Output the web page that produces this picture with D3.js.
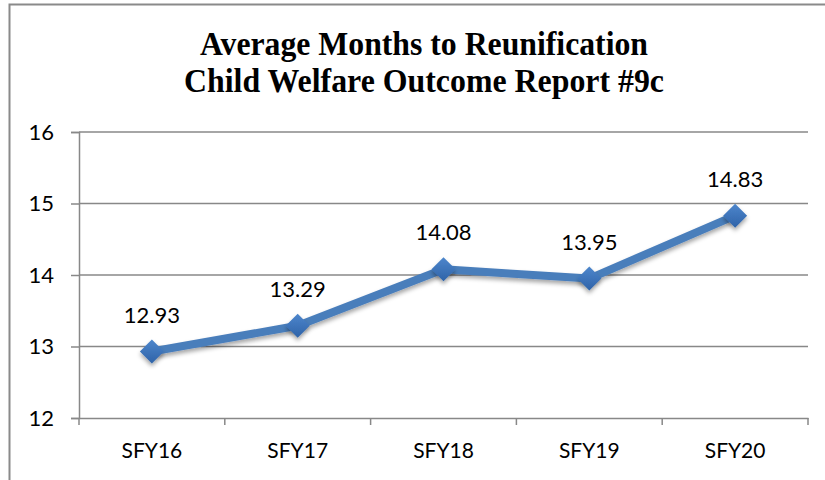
<!DOCTYPE html>
<html>
<head>
<meta charset="utf-8">
<script src="https://cdn.jsdelivr.net/npm/d3@7"></script>
<style>
  body { margin: 0; background: #fff; }
  svg { display: block; }
</style>
</head>
<body>
<svg width="825" height="480"></svg>
<script>
// chart data
const categories = ["SFY16", "SFY17", "SFY18", "SFY19", "SFY20"];
const values = [12.93, 13.29, 14.08, 13.95, 14.83];
const yTicks = [12, 13, 14, 15, 16];
const titleLines = ["Average Months to Reunification", "Child Welfare Outcome Report #9c"];

const svg = d3.select("svg");
const margin = {left: 79, right: 17, top: 132, bottom: 62};
const W = 825, H = 480;
const FONT = "Lato, Carlito, sans-serif";

// outer frame (left + top edges visible)
svg.append("path")
  .attr("d", "M9.5,480 L9.5,4.5 L825,4.5")
  .attr("fill", "none").attr("stroke", "#8a8a8a").attr("stroke-width", 2);

// title
svg.append("g").selectAll("text")
  .data(titleLines)
  .enter().append("text")
  .attr("x", 424)
  .attr("y", (d, i) => 55 + i * 37)
  .attr("text-anchor", "middle")
  .attr("font-family", "Liberation Serif, Times New Roman, serif")
  .attr("font-weight", "bold")
  .attr("font-size", 33)
  .attr("textLength", (d, i) => i == 0 ? 448 : 480)
  .attr("lengthAdjust", "spacingAndGlyphs")
  .text(d => d);

const x = d3.scaleBand().domain(categories).range([margin.left, W - margin.right]);
const y = d3.scaleLinear().domain([12, 16]).range([H - margin.bottom, margin.top]);

// gridlines
svg.append("g").selectAll("line")
  .data(yTicks.slice(1))
  .enter().append("line")
  .attr("x1", margin.left).attr("x2", W - margin.right)
  .attr("y1", d => y(d)).attr("y2", d => y(d))
  .attr("stroke", "#888").attr("stroke-width", 1.5);

// y axis
const yAxis = d3.axisLeft(y).tickValues(yTicks).tickFormat(d3.format("d")).tickSize(8).tickPadding(17);
const gy = svg.append("g").attr("transform", `translate(${margin.left},0)`).call(yAxis);
gy.select(".domain").attr("stroke", "#888").attr("stroke-width", 1.5);
gy.selectAll(".tick line").attr("stroke", "#888").attr("stroke-width", 1.5);
gy.selectAll("text").attr("font-family", FONT).attr("font-size", 22).attr("fill", "#000");

// x axis with ticks on band edges
const xAxis = d3.axisBottom(x).tickSize(0).tickPadding(25);
const gx = svg.append("g").attr("transform", `translate(0,${y(12)})`).call(xAxis);
gx.select(".domain").attr("stroke", "#888").attr("stroke-width", 1.5);
gx.selectAll("text").attr("font-family", FONT).attr("font-size", 21).attr("fill", "#000");
const edges = categories.map(c => x(c)).concat([x(categories[categories.length - 1]) + x.bandwidth()]);
gx.selectAll(".edge").data(edges).enter().append("line")
  .attr("x1", d => d).attr("x2", d => d).attr("y1", 0).attr("y2", 7)
  .attr("stroke", "#888").attr("stroke-width", 1.5);

// shadow + gradient
const defs = svg.append("defs");
const f = defs.append("filter").attr("id", "sh").attr("x", "-30%").attr("y", "-30%").attr("width", "160%").attr("height", "170%");
f.append("feDropShadow").attr("dx", 0).attr("dy", 3).attr("stdDeviation", 2).attr("flood-color", "#000").attr("flood-opacity", 0.35);
const gr = defs.append("linearGradient").attr("id", "dg").attr("x1", 0).attr("y1", 0).attr("x2", 0).attr("y2", 1);
gr.append("stop").attr("offset", "0%").attr("stop-color", "#4d86cc");
gr.append("stop").attr("offset", "100%").attr("stop-color", "#2f63a8");

const cx = d => x(d) + x.bandwidth() / 2;
const line = d3.line().x((d, i) => cx(categories[i])).y(d => y(d));

svg.append("path")
  .datum(values)
  .attr("d", line)
  .attr("fill", "none")
  .attr("stroke", "#4a7ebb")
  .attr("stroke-width", 8)
  .attr("stroke-linejoin", "round")
  .attr("filter", "url(#sh)");

// diamond markers
svg.append("g").selectAll("path")
  .data(values)
  .enter().append("path")
  .attr("transform", (d, i) => `translate(${cx(categories[i])},${y(d)})`)
  .attr("d", "M0,-12 L12,0 L0,12 L-12,0 Z")
  .attr("fill", "url(#dg)")
  .attr("filter", "url(#sh)");

// data labels
svg.append("g").selectAll("text")
  .data(values)
  .enter().append("text")
  .attr("x", (d, i) => cx(categories[i]))
  .attr("y", d => y(d) - 29)
  .attr("text-anchor", "middle")
  .attr("font-family", FONT)
  .attr("font-size", 22)
  .text(d => d.toFixed(2));
</script>
</body>
</html>
